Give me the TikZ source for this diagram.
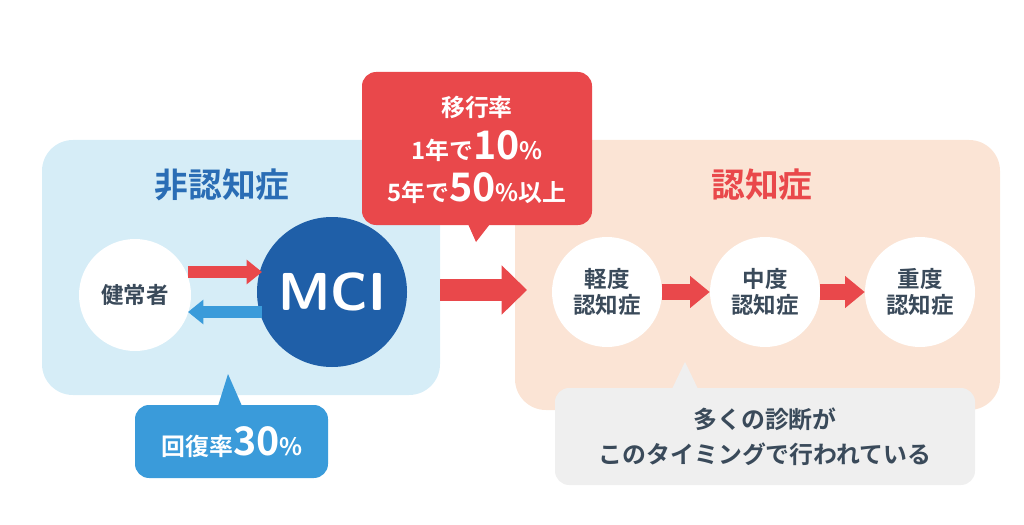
\documentclass[tikz,border=0pt]{standalone}
\usepackage{fontspec}
\newfontfamily\jp{Noto Sans CJK JP Bold}
\usetikzlibrary{arrows.meta,positioning}
\definecolor{bgblue}{HTML}{D6EDF7}
\definecolor{bgpeach}{HTML}{FBE4D5}
\definecolor{dblue}{HTML}{1F5FA8}
\definecolor{tblue}{HTML}{2A6DB5}
\definecolor{mred}{HTML}{E9484B}
\definecolor{lblue}{HTML}{3A9BDA}
\definecolor{lgray}{HTML}{EFEFEF}
\definecolor{dtext}{HTML}{3A4A5A}
\newcommand\bignum[1]{{\fontsize{28}{28}\selectfont #1}}
\tikzset{
  stage/.style={circle, fill=white, minimum size=110*0.025cm, inner sep=0pt,
    align=center, font=\jp\fontsize{16}{19}\selectfont, text=dtext},
  fat/.style={-{Triangle[length=14pt,width=22pt]}, line width=11pt, mred},
}
\begin{document}
\begin{tikzpicture}[x=0.025cm,y=-0.025cm]
  \useasboundingbox (0,0) rectangle (1024,525);

  % panels
  \fill[bgblue, rounded corners=22] (42,140) rectangle (440,395);
  \fill[bgpeach, rounded corners=22] (515,140) rectangle (1000,410);
  \node[text=tblue, font=\jp\fontsize{24}{26}\selectfont] (ttl1) at (222,185) {非認知症};
  \node[text=mred, font=\jp\fontsize{24}{26}\selectfont] (ttl2) at (762,185) {認知症};

  % circles
  \node[stage, minimum size=112*0.025cm] (kenjo) at (135,295) {健常者};
  \node[circle, fill=dblue, minimum size=150*0.025cm, text=white,
    font=\sffamily\bfseries\fontsize{38}{40}\selectfont] (mci) at (332,292) {MCI};
  \node[stage] (kei) at (607,292) {軽度\\認知症};
  \node[stage] (chu) at (765,292) {中度\\認知症};
  \node[stage] (ju) at (920,292) {重度\\認知症};

  % arrows
  \coordinate (r1) at (188,272); \coordinate (r2) at (262,272);
  \coordinate (b1) at (262,312); \coordinate (b2) at (188,312);
  \draw[fat, line width=8pt, -{Triangle[length=11pt,width=17pt]}] (r1) -- (r2);
  \draw[fat, lblue, line width=8pt, -{Triangle[length=11pt,width=17pt]}] (b1) -- (b2);
  \draw[fat, line width=16pt, -{Triangle[length=18pt,width=34pt]}]
    (440,290) -- (527,290);
  \draw[fat] (kei.east) -- (chu.west);
  \draw[fat] (chu.east) -- (ju.west);

  % callouts
  \fill[mred, rounded corners=10] (362,72) rectangle (592,225);
  \fill[mred] (468,224) -- (490,224) -- (476,242) -- cycle;
  \node[text=white, align=center, font=\jp\fontsize{17}{30}\selectfont] (iko) at (477,150)
    {移行率\\1年で\bignum{10}\%\\5年で\bignum{50}\%以上};

  \fill[lblue, rounded corners=10] (135,405) rectangle (328,478);
  \fill[lblue] (218,406) -- (242,406) -- (228,374) -- cycle;
  \node[text=white, font=\jp\fontsize{17}{20}\selectfont] (kaifuku) at (232,442)
    {回復率\bignum{30}\%};

  \fill[lgray, rounded corners=10] (555,388) rectangle (975,485);
  \fill[lgray] (672,389) -- (698,389) -- (685,362) -- cycle;
  \node[text=dtext, align=center, font=\jp\fontsize{17}{25}\selectfont] (shindan) at (765,437)
    {多くの診断が\\このタイミングで行われている};
\end{tikzpicture}
\end{document}
